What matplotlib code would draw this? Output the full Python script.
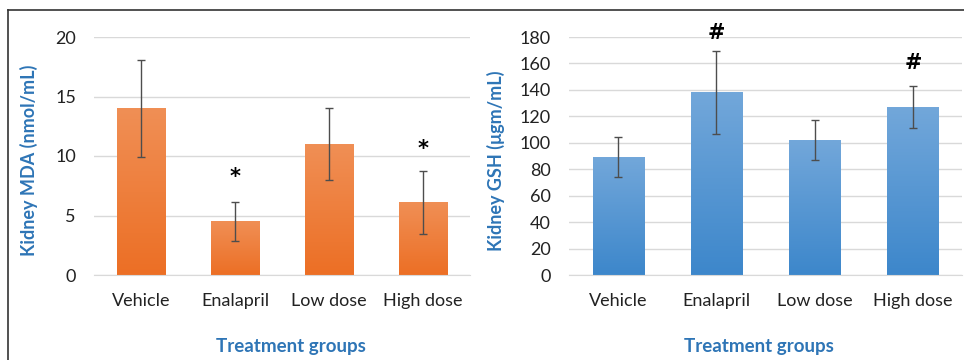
import numpy as np
import matplotlib.pyplot as plt
from matplotlib.colors import LinearSegmentedColormap
from matplotlib.lines import Line2D

plt.rcParams['font.family'] = ['Lato', 'DejaVu Sans']

groups = ["Vehicle", "Enalapril", "Low dose", "High dose"]

mda = [14.0, 4.5, 11.0, 6.1]
mda_err = [4.1, 1.65, 3.0, 2.65]
mda_marks = ["", "*", "", "*"]
mda_mark_y = [0, 8.2, 0, 10.6]

gsh = [89, 138, 102, 127]
gsh_err = [15, 31.5, 15, 16]
gsh_marks = ["", "#", "", "#"]
gsh_mark_y = [0, 183, 0, 160]

blue_txt = "#2E75B6"
grid_c = "#D9D9D9"

fig = plt.figure(figsize=(9.64, 3.6), dpi=100)

# outer frame (top + left)
fig.add_artist(Line2D([8/964, 8/964], [0, 1 - 10/360], color="#333333", lw=1.2))
fig.add_artist(Line2D([8/964, 1], [1 - 10/360, 1 - 10/360], color="#333333", lw=1.2))


def panel(rect, vals, errs, ymax, step, top_c, bot_c, ylabel, marks, mark_y, ylab_x, xlab_x):
    ax = fig.add_axes(rect)
    x = np.arange(len(groups))
    bars = ax.bar(x, vals, width=0.52, color=bot_c, zorder=2)
    cmap = LinearSegmentedColormap.from_list("g", [bot_c, top_c])
    grad = np.linspace(0, 1, 100).reshape(-1, 1)
    for b in bars:
        x0, w, h = b.get_x(), b.get_width(), b.get_height()
        ax.imshow(grad, extent=[x0, x0 + w, 0, h], origin="lower", cmap=cmap,
                  aspect="auto", zorder=2.5)
    ax.errorbar(x, vals, yerr=errs, fmt="none", ecolor="#4d4d4d", elinewidth=1,
                capsize=3, capthick=1, zorder=3)
    for xi, m, my in zip(x, marks, mark_y):
        if m:
            ax.text(xi, my, m, ha="center", va="center", fontsize=15, fontweight="bold",
                    family="DejaVu Sans", color="black", clip_on=False)
    ax.set_xlim(-0.5, len(groups) - 0.5)
    ax.set_ylim(0, ymax)
    ax.set_yticks(np.arange(0, ymax + 1, step))
    ax.set_xticks(x)
    ax.set_xticklabels(groups)
    ax.grid(axis="y", color=grid_c, lw=1, zorder=0)
    ax.set_axisbelow(True)
    for s in ["top", "right", "left"]:
        ax.spines[s].set_visible(False)
    ax.spines["bottom"].set_color(grid_c)
    ax.tick_params(axis="both", length=0, labelsize=13, colors="#222222")
    ax.tick_params(axis="x", pad=13)
    ax.tick_params(axis="y", pad=13)
    ax.set_ylabel(ylabel, color=blue_txt, fontsize=13, fontweight="bold")
    ax.yaxis.set_label_coords(ylab_x, 0.48)
    ax.set_xlabel("Treatment groups", color=blue_txt, fontsize=13.5, fontweight="bold")
    ax.xaxis.set_label_coords(xlab_x, -0.265)
    ax.set_xlim(-0.5, len(groups) - 0.5)
    return ax


panel([94/964, 1 - 275/360, 376/964, 238/360], mda, mda_err, 20, 5,
      "#F08F55", "#EC6F25", "Kidney MDA (nmol/mL)", mda_marks, mda_mark_y, -0.15, 0.524)
panel([569/964, 1 - 275/360, 393/964, 238/360], gsh, gsh_err, 180, 20,
      "#72A7DA", "#3D87CB", "Kidney GSH (\u03bcgm/mL)", gsh_marks, gsh_mark_y, -0.163, 0.483)

fig.savefig("out.png", dpi=100)
